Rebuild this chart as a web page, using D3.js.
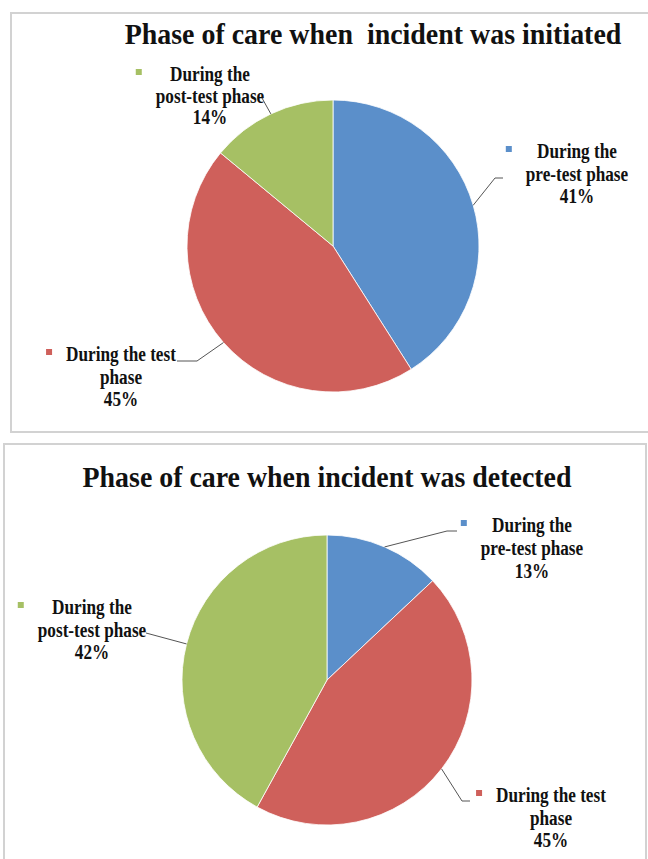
<!DOCTYPE html>
<html>
<head>
<meta charset="utf-8">
<script src="https://cdn.jsdelivr.net/npm/d3@7"></script>
<style>
  body { margin: 0; background: #fff; }
  text { font-family: "Liberation Serif", "Times New Roman", serif; font-weight: bold; fill: #111; }
</style>
</head>
<body>
<svg id="chart" width="648" height="859"></svg>
<script>
// data
var categories = ["During the pre-test phase", "During the test phase", "During the post-test phase"];
var labelLines = [["During the", "pre-test phase"], ["During the test", "phase"], ["During the", "post-test phase"]];
var initiatedValues = [41, 45, 14];
var detectedValues = [13, 45, 42];
var sliceColors = ["#5b8fca", "#cf605b", "#a6c064"];

var svg = d3.select("#chart");

// panel borders (top panel runs off the right side)
svg.append("path").attr("d", "M648,13 H11 V432 H648")
  .attr("fill", "none").attr("stroke", "#d2d2d2").attr("stroke-width", 2);
svg.append("path").attr("d", "M4,859 V444 H646 V859")
  .attr("fill", "none").attr("stroke", "#d2d2d2").attr("stroke-width", 2);

function drawPie(opts) {
  var g = svg.append("g").attr("transform", "translate(" + opts.cx + "," + opts.cy + ")");

  var pie = d3.pie().sort(null).value(function (d) { return d; });
  var arcs = pie(opts.values);
  var arc = d3.arc().innerRadius(0).outerRadius(opts.r);
  var edge = d3.arc().innerRadius(opts.r).outerRadius(opts.r);

  g.selectAll("path.slice")
    .data(arcs)
    .enter().append("path")
    .attr("class", "slice")
    .attr("d", arc)
    .attr("fill", function (d, i) { return sliceColors[i]; })
    .attr("stroke", "#fff")
    .attr("stroke-width", 0.8);

  // title, squeezed horizontally with a scale so its box stays true
  var tg = svg.append("g");
  var title = tg.append("text")
    .attr("x", 0).attr("y", 0)
    .attr("text-anchor", "middle")
    .style("font-size", "30px")
    .text(opts.title);
  var k = opts.titleW / title.node().getComputedTextLength();
  tg.attr("transform", "translate(" + opts.titleX + "," + opts.titleY + ") scale(" + k + ",1)");

  // data labels
  arcs.forEach(function (d, i) {
    var lab = opts.labels[i];
    var lines = labelLines[i].concat([opts.values[i] + "%"]);

    // leader line: slice edge -> elbow -> end
    var p0 = edge.centroid(d);
    var pts = [[p0[0] + opts.cx, p0[1] + opts.cy]].concat(lab.leader);
    svg.append("path")
      .attr("d", d3.line()(pts))
      .attr("fill", "none")
      .attr("stroke", "#555")
      .attr("stroke-width", 1);

    var txt = svg.append("g");
    var maxW = 0;
    lines.forEach(function (s, j) {
      var t = txt.append("text")
        .attr("x", lab.x).attr("y", lab.y + j * lab.dy)
        .attr("text-anchor", "middle")
        .style("font-size", "20px")
        .text(s);
      var w = t.node().getComputedTextLength() * 0.86;
      t.attr("textLength", w).attr("lengthAdjust", "spacingAndGlyphs");
      if (w > maxW) maxW = w;
    });

    // legend key
    svg.append("rect")
      .attr("x", lab.x - maxW / 2 - 20)
      .attr("y", lab.y - 12)
      .attr("width", 6).attr("height", 6)
      .attr("fill", sliceColors[i]);
  });
}

drawPie({
  values: initiatedValues,
  title: "Phase of care when \u00a0incident was initiated",
  titleX: 373, titleY: 44, titleW: 497,
  cx: 333, cy: 246, r: 146,
  labels: [
    { x: 577, y: 158, dy: 22.5, leader: [[495, 178], [503, 178]] },
    { x: 121, y: 361, dy: 22.5, leader: [[197, 361], [177, 361]] },
    { x: 210, y: 81, dy: 21.5, leader: [[262, 98]] }
  ]
});

drawPie({
  values: detectedValues,
  title: "Phase of care when incident was detected",
  titleX: 327, titleY: 487, titleW: 489,
  cx: 327, cy: 680, r: 145,
  labels: [
    { x: 532, y: 532, dy: 23, leader: [[447, 531], [457, 531]] },
    { x: 551, y: 802, dy: 22.5, leader: [[462, 801], [470, 801]] },
    { x: 92, y: 614, dy: 22.5, leader: [[146, 633]] }
  ]
});
</script>
</body>
</html>
